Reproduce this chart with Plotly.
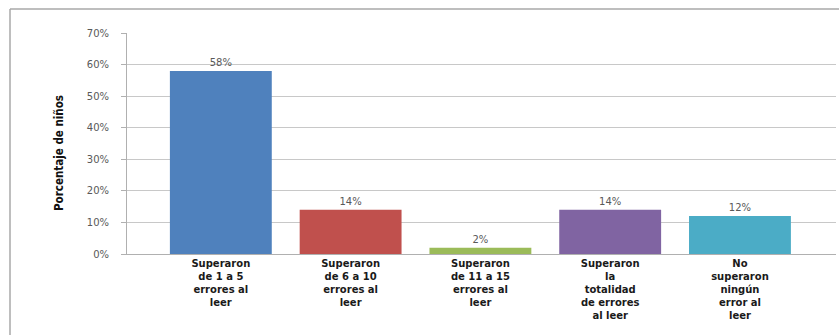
import plotly.graph_objects as go

categories = [
    "Superaron<br>de 1 a 5<br>errores al<br>leer",
    "Superaron<br>de 6 a 10<br>errores al<br>leer",
    "Superaron<br>de 11 a 15<br>errores al<br>leer",
    "Superaron<br>la<br>totalidad<br>de errores<br>al leer",
    "No<br>superaron<br>ningún<br>error al<br>leer",
]
values = [0.58, 0.14, 0.02, 0.14, 0.12]
labels = ["58%", "14%", "2%", "14%", "12%"]
colors = ["#4F81BD", "#C0504D", "#9BBB59", "#8064A2", "#4BACC6"]
y_title = "Porcentaje de niños"
y_ticks = [0, 0.1, 0.2, 0.3, 0.4, 0.5, 0.6, 0.7]
y_ticktext = ["0%", "10%", "20%", "30%", "40%", "50%", "60%", "70%"]

fig = go.Figure()
fig.add_trace(go.Bar(
    x=list(range(len(categories))),
    y=values,
    text=labels,
    textposition="outside",
    textfont=dict(family="DejaVu Sans", size=10, color="#595959"),
    marker=dict(color=colors, line=dict(width=0)),
    width=0.785,
    cliponaxis=False,
    hoverinfo="skip",
))

fig.update_layout(
    width=839, height=335,
    margin=dict(l=127, r=3, t=33, b=81),
    paper_bgcolor="white", plot_bgcolor="white",
    showlegend=False,
    xaxis=dict(
        range=[-0.723, 4.74],
        tickmode="array",
        tickvals=list(range(len(categories))),
        ticktext=categories,
        tickangle=0,
        tickfont=dict(family="DejaVu Sans", size=10, color="#1a1a1a", weight="bold"),
        showgrid=False,
        showline=True, linecolor="#b0b0b0", linewidth=1,
        ticks="", zeroline=False,
        ticklabelstandoff=0,
    ),
    yaxis=dict(
        range=[0, 0.70],
        tickvals=y_ticks,
        ticktext=y_ticktext,
        tickfont=dict(family="DejaVu Sans", size=10, color="#595959"),
        showgrid=True, gridcolor="#c8c8c8", gridwidth=1,
        showline=True, linecolor="#b0b0b0", linewidth=1,
        ticks="outside", ticklen=5, tickcolor="#b0b0b0",
        ticklabelstandoff=10,
        zeroline=False,
    ),
)

fig.add_annotation(
    text=y_title, textangle=-90,
    xref="paper", yref="paper",
    x=(50 - 127) / 709, y=(254 - 153) / 221,
    showarrow=False,
    font=dict(family="DejaVu Sans Condensed", size=11.5, color="#111111", weight="bold"),
)

# outer frame (top and left edges visible in the reference)
fig.add_shape(
    type="line", xref="paper", yref="paper",
    x0=(10 - 127) / 709, x1=(839 - 127) / 709,
    y0=(254 - 9) / 221, y1=(254 - 9) / 221,
    line=dict(color="#a8a8a8", width=1.5),
)
fig.add_shape(
    type="line", xref="paper", yref="paper",
    x0=(10 - 127) / 709, x1=(10 - 127) / 709,
    y0=(254 - 9) / 221, y1=(254 - 336) / 221,
    line=dict(color="#a8a8a8", width=1.5),
)

fig.write_html("out.html")
